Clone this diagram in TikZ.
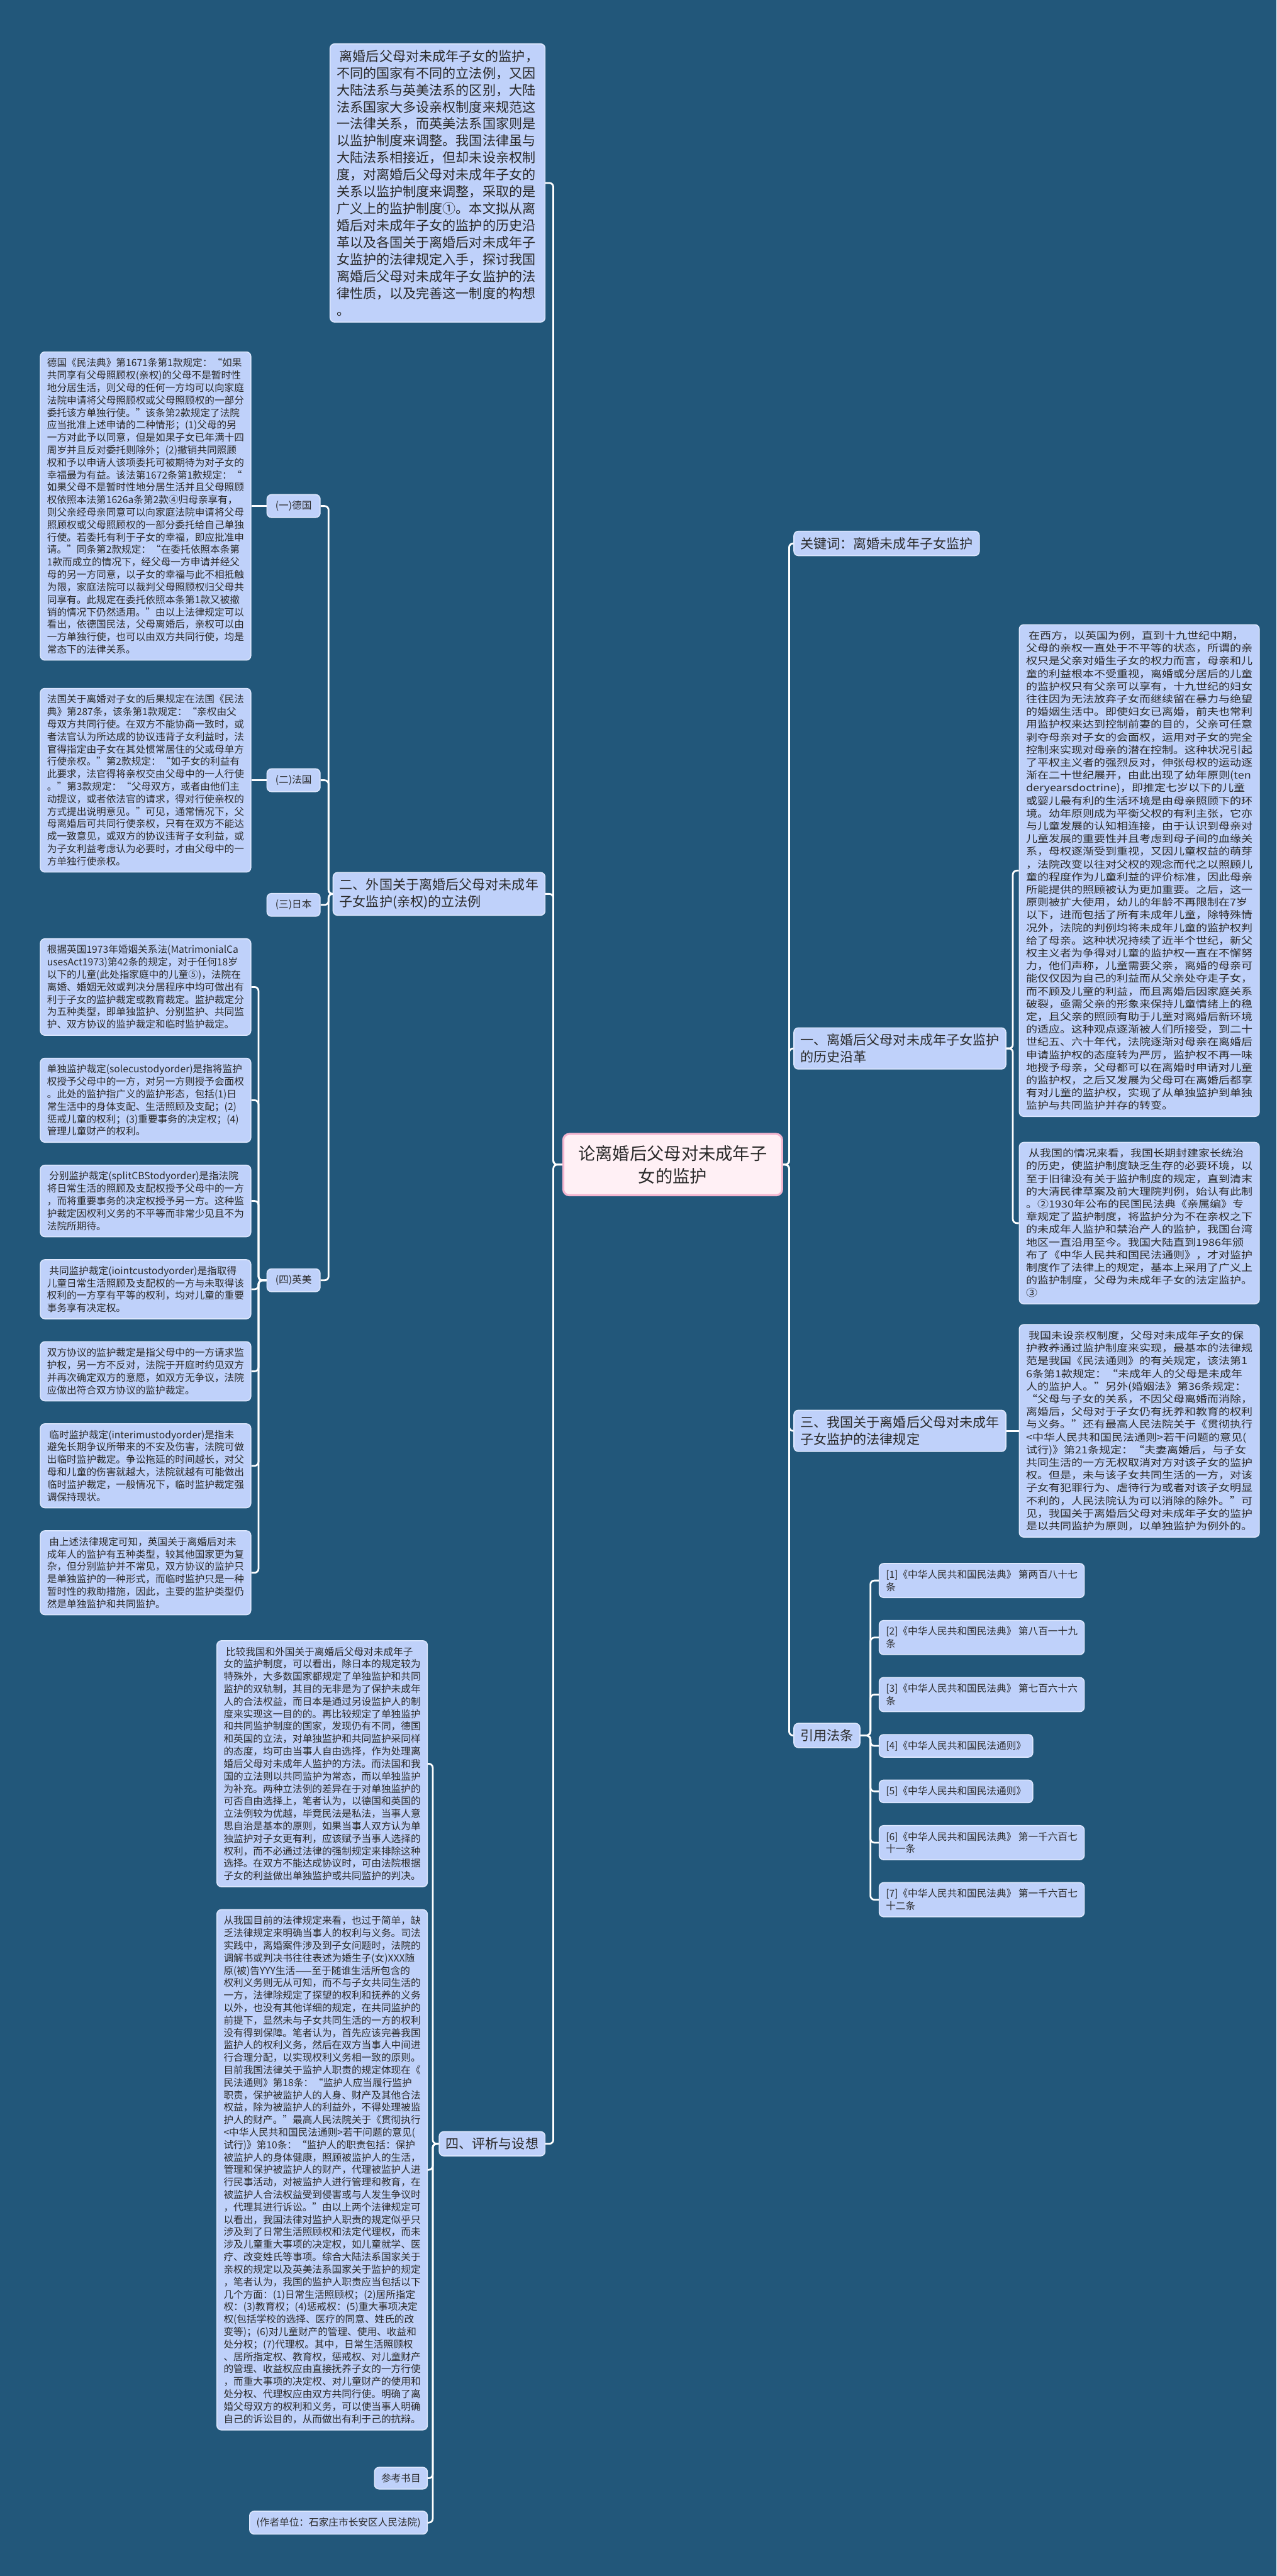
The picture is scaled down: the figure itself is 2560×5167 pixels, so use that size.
\documentclass[tikz,border=0pt]{standalone}
\usepackage{fontspec}
\newfontfamily\cjk{Noto Sans CJK SC}
\newfontfamily\cjkwide[FakeStretch=1.15]{Noto Sans CJK SC}
\usetikzlibrary{positioning,calc}
\definecolor{bgC}{HTML}{22577A}
\definecolor{bxC}{HTML}{BFD1FA}
\definecolor{txC}{HTML}{2A2A2A}
\definecolor{rtC}{HTML}{FFF0F5}
\definecolor{rtB}{HTML}{F4B6CF}

\begin{document}
\begin{tikzpicture}[x=0.1mm, y=-0.1mm, node distance=4.4mm,
  bx/.style={fill=bxC, draw=bxC!55!white, line width=.2mm, rounded corners=.9mm, text=txC,
    align=left, inner xsep=1.35mm, inner ysep=1.26mm, font=\cjk\fontsize{5.62pt}{7.11pt}\selectfont},
  wd/.style={bx, font=\cjkwide\fontsize{5.62pt}{7.25pt}\selectfont},
  lv1/.style={bx, inner xsep=1.3mm, inner ysep=1.2mm, font=\cjk\fontsize{7.57pt}{9.67pt}\selectfont},
  tag/.style={bx, inner xsep=1.7mm},
  rt/.style={fill=rtC, draw=rtB, line width=.4mm, rounded corners=1.2mm, text=txC, align=center,
    inner xsep=3mm, inner ysep=2.3mm, font=\cjk\fontsize{9.8pt}{12.8pt}\selectfont},
  ln/.style={draw=white, line width=.35mm, rounded corners=.8mm}]
\fill[bgC] (0,0) rectangle (2560,5167);
\useasboundingbox (0,0) rectangle (2560,5167);

% root
\node[rt] (root) at (1349,2336) {论离婚后父母对未成年子\\女的监护};

% right branches
\node[lv1, anchor=west] (kw) at (1591,1090) {关键词：离婚未成年子女监护};
\node[lv1, anchor=west] (hist) at (1591,2103) {一、离婚后父母对未成年子女监护\\的历史沿革};
\node[lv1, anchor=west] (law) at (1591,2870) {三、我国关于离婚后父母对未成年\\子女监护的法律规定};
\node[lv1, anchor=west] (cite) at (1591,3481) {引用法条};

% left branches
\node[lv1, anchor=east] (intro) at (1094,367) {~离婚后父母对未成年子女的监护，\\不同的国家有不同的立法例，又因\\大陆法系与英美法系的区别，大陆\\法系国家大多设亲权制度来规范这\\一法律关系，而英美法系国家则是\\以监护制度来调整。我国法律虽与\\大陆法系相接近，但却未设亲权制\\度，对离婚后父母对未成年子女的\\关系以监护制度来调整，采取的是\\广义上的监护制度①。本文拟从离\\婚后对未成年子女的监护的历史沿\\革以及各国关于离婚后对未成年子\\女监护的法律规定入手，探讨我国\\离婚后父母对未成年子女监护的法\\律性质，以及完善这一制度的构想\\。};
\node[lv1, anchor=east] (abroad) at (1094,1793) {二、外国关于离婚后父母对未成年\\子女监护(亲权)的立法例};
\node[lv1, anchor=east] (eval) at (1094,4300) {四、评析与设想};

% countries
\node[tag, anchor=east] (de) at (643,1015) {(一)德国};
\node[tag, anchor=east] (fr) at (643,1565) {(二)法国};
\node[tag, anchor=east] (jp) at (643,1815) {(三)日本};
\node[tag, anchor=east] (uk) at (643,2568) {(四)英美};

\node[bx, anchor=east] (deT) at (504,1015) {德国《民法典》第1671条第1款规定：“如果\\共同享有父母照顾权(亲权)的父母不是暂时性\\地分居生活，则父母的任何一方均可以向家庭\\法院申请将父母照顾权或父母照顾权的一部分\\委托该方单独行使。”该条第2款规定了法院\\应当批准上述申请的二种情形；(1)父母的另\\一方对此予以同意，但是如果子女已年满十四\\周岁并且反对委托则除外；(2)撤销共同照顾\\权和予以申请人该项委托可被期待为对子女的\\幸福最为有益。该法第1672条第1款规定：“\\如果父母不是暂时性地分居生活并且父母照顾\\权依照本法第1626a条第2款④归母亲享有，\\则父亲经母亲同意可以向家庭法院申请将父母\\照顾权或父母照顾权的一部分委托给自己单独\\行使。若委托有利于子女的幸福，即应批准申\\请。”同条第2款规定：“在委托依照本条第\\1款而成立的情况下，经父母一方申请并经父\\母的另一方同意，以子女的幸福与此不相抵触\\为限，家庭法院可以裁判父母照顾权归父母共\\同享有。此规定在委托依照本条第1款又被撤\\销的情况下仍然适用。”由以上法律规定可以\\看出，依德国民法，父母离婚后，亲权可以由\\一方单独行使，也可以由双方共同行使，均是\\常态下的法律关系。};
\node[bx, anchor=east] (frT) at (504,1565) {法国关于离婚对子女的后果规定在法国《民法\\典》第287条，该条第1款规定：“亲权由父\\母双方共同行使。在双方不能协商一致时，或\\者法官认为所达成的协议违背子女利益时，法\\官得指定由子女在其处惯常居住的父或母单方\\行使亲权。”第2款规定：“如子女的利益有\\此要求，法官得将亲权交由父母中的一人行使\\。”第3款规定：“父母双方，或者由他们主\\动提议，或者依法官的请求，得对行使亲权的\\方式提出说明意见。”可见，通常情况下，父\\母离婚后可共同行使亲权，只有在双方不能达\\成一致意见，或双方的协议违背子女利益，或\\为子女利益考虑认为必要时，才由父母中的一\\方单独行使亲权。};

\node[bx, anchor=north east] (uk1) at (504,1882) {根据英国1973年婚姻关系法(MatrimonialCa\\usesAct1973)第42条的规定，对于任何18岁\\以下的儿童(此处指家庭中的儿童⑤)，法院在\\离婚、婚姻无效或判决分居程序中均可做出有\\利于子女的监护裁定或教育裁定。监护裁定分\\为五种类型，即单独监护、分别监护、共同监\\护、双方协议的监护裁定和临时监护裁定。};
\node[bx, below=of uk1.south east, anchor=north east] (uk2) {单独监护裁定(solecustodyorder)是指将监护\\权授予父母中的一方，对另一方则授予会面权\\。此处的监护指广义的监护形态，包括(1)日\\常生活中的身体支配、生活照顾及支配；(2)\\惩戒儿童的权利；(3)重要事务的决定权；(4)\\管理儿童财产的权利。};
\node[bx, below=of uk2.south east, anchor=north east] (uk3) {~分别监护裁定(splitCBStodyorder)是指法院\\将日常生活的照顾及支配权授予父母中的一方\\，而将重要事务的决定权授予另一方。这种监\\护裁定因权利义务的不平等而非常少见且不为\\法院所期待。};
\node[bx, below=of uk3.south east, anchor=north east] (uk4) {~共同监护裁定(iointcustodyorder)是指取得\\儿童日常生活照顾及支配权的一方与未取得该\\权利的一方享有平等的权利，均对儿童的重要\\事务享有决定权。};
\node[bx, below=of uk4.south east, anchor=north east] (uk5) {双方协议的监护裁定是指父母中的一方请求监\\护权，另一方不反对，法院于开庭时约见双方\\并再次确定双方的意愿，如双方无争议，法院\\应做出符合双方协议的监护裁定。};
\node[bx, below=of uk5.south east, anchor=north east] (uk6) {~临时监护裁定(interimustodyorder)是指未\\避免长期争议所带来的不安及伤害，法院可做\\出临时监护裁定。争讼拖延的时间越长，对父\\母和儿童的伤害就越大，法院就越有可能做出\\临时监护裁定，一般情况下，临时监护裁定强\\调保持现状。};
\node[bx, below=of uk6.south east, anchor=north east] (uk7) {~由上述法律规定可知，英国关于离婚后对未\\成年人的监护有五种类型，较其他国家更为复\\杂，但分别监护并不常见，双方协议的监护只\\是单独监护的一种形式，而临时监护只是一种\\暂时性的救助措施，因此，主要的监护类型仍\\然是单独监护和共同监护。};

% history
\node[wd, anchor=north west] (west1) at (2043,1252) {~在西方，以英国为例，直到十九世纪中期，\\父母的亲权一直处于不平等的状态，所谓的亲\\权只是父亲对婚生子女的权力而言，母亲和儿\\童的利益根本不受重视，离婚或分居后的儿童\\的监护权只有父亲可以享有，十九世纪的妇女\\往往因为无法放弃子女而继续留在暴力与绝望\\的婚姻生活中。即使妇女已离婚，前夫也常利\\用监护权来达到控制前妻的目的，父亲可任意\\剥夺母亲对子女的会面权，运用对子女的完全\\控制来实现对母亲的潜在控制。这种状况引起\\了平权主义者的强烈反对，伸张母权的运动逐\\渐在二十世纪展开，由此出现了幼年原则(ten\\deryearsdoctrine)，即推定七岁以下的儿童\\或婴儿最有利的生活环境是由母亲照顾下的环\\境。幼年原则成为平衡父权的有利主张，它亦\\与儿童发展的认知相连接，由于认识到母亲对\\儿童发展的重要性并且考虑到母子间的血缘关\\系，母权逐渐受到重视，又因儿童权益的萌芽\\，法院改变以往对父权的观念而代之以照顾儿\\童的程度作为儿童利益的评价标准，因此母亲\\所能提供的照顾被认为更加重要。之后，这一\\原则被扩大使用，幼儿的年龄不再限制在7岁\\以下，进而包括了所有未成年儿童，除特殊情\\况外，法院的判例均将未成年儿童的监护权判\\给了母亲。这种状况持续了近半个世纪，新父\\权主义者为争得对儿童的监护权一直在不懈努\\力，他们声称，儿童需要父亲，离婚的母亲可\\能仅仅因为自己的利益而从父亲处夺走子女，\\而不顾及儿童的利益，而且离婚后因家庭关系\\破裂，亟需父亲的形象来保持儿童情绪上的稳\\定，且父亲的照顾有助于儿童对离婚后新环境\\的适应。这种观点逐渐被人们所接受，到二十\\世纪五、六十年代，法院逐渐对母亲在离婚后\\申请监护权的态度转为严厉，监护权不再一味\\地授予母亲，父母都可以在离婚时申请对儿童\\的监护权，之后又发展为父母可在离婚后都享\\有对儿童的监护权，实现了从单独监护到单独\\监护与共同监护并存的转变。};
\node[wd, below=5mm of west1.south west, anchor=north west] (west2) {~从我国的情况来看，我国长期封建家长统治\\的历史，使监护制度缺乏生存的必要环境，以\\至于旧律没有关于监护制度的规定，直到清末\\的大清民律草案及前大理院判例，始认有此制\\。②1930年公布的民国民法典《亲属编》专\\章规定了监护制度，将监护分为不在亲权之下\\的未成年人监护和禁治产人的监护，我国台湾\\地区一直沿用至今。我国大陆直到1986年颁\\布了《中华人民共和国民法通则》，才对监护\\制度作了法律上的规定，基本上采用了广义上\\的监护制度，父母为未成年子女的法定监护。\\③};
\node[wd, anchor=west] (lawT) at (2043,2870) {~我国未设亲权制度，父母对未成年子女的保\\护教养通过监护制度来实现，最基本的法律规\\范是我国《民法通则》的有关规定，该法第1\\6条第1款规定：“未成年人的父母是未成年\\人的监护人。”另外(婚姻法》第36条规定：\\“父母与子女的关系，不因父母离婚而消除，\\离婚后，父母对于子女仍有抚养和教育的权利\\与义务。”还有最高人民法院关于《贯彻执行\\<中华人民共和国民法通则>若干问题的意见(\\试行)》第21条规定：“夫妻离婚后，与子女\\共同生活的一方无权取消对方对该子女的监护\\权。但是，未与该子女共同生活的一方，对该\\子女有犯罪行为、虐待行为或者对该子女明显\\不利的，人民法院认为可以消除的除外。”可\\见，我国关于离婚后父母对未成年子女的监护\\是以共同监护为原则，以单独监护为例外的。};

% references
\node[bx, anchor=north west] (r1) at (1762,3135) {[1]《中华人民共和国民法典》 第两百八十七\\条};
\node[bx, below=of r1.south west, anchor=north west] (r2) {[2]《中华人民共和国民法典》 第八百一十九\\条};
\node[bx, below=of r2.south west, anchor=north west] (r3) {[3]《中华人民共和国民法典》 第七百六十六\\条};
\node[bx, below=of r3.south west, anchor=north west] (r4) {[4]《中华人民共和国民法通则》};
\node[bx, below=of r4.south west, anchor=north west] (r5) {[5]《中华人民共和国民法通则》};
\node[bx, below=of r5.south west, anchor=north west] (r6) {[6]《中华人民共和国民法典》 第一千六百七\\十一条};
\node[bx, below=of r6.south west, anchor=north west] (r7) {[7]《中华人民共和国民法典》 第一千六百七\\十二条};

% evaluation
\node[bx, anchor=north east] (cmp) at (858,3290) {~比较我国和外国关于离婚后父母对未成年子\\女的监护制度，可以看出，除日本的规定较为\\特殊外，大多数国家都规定了单独监护和共同\\监护的双轨制，其目的无非是为了保护未成年\\人的合法权益，而日本是通过另设监护人的制\\度来实现这一目的的。再比较规定了单独监护\\和共同监护制度的国家，发现仍有不同，德国\\和英国的立法，对单独监护和共同监护采同样\\的态度，均可由当事人自由选择，作为处理离\\婚后父母对未成年人监护的方法。而法国和我\\国的立法则以共同监护为常态，而以单独监护\\为补充。两种立法例的差异在于对单独监护的\\可否自由选择上，笔者认为，以德国和英国的\\立法例较为优越，毕竟民法是私法，当事人意\\思自治是基本的原则，如果当事人双方认为单\\独监护对子女更有利，应该赋予当事人选择的\\权利，而不必通过法律的强制规定来排除这种\\选择。在双方不能达成协议时，可由法院根据\\子女的利益做出单独监护或共同监护的判决。};
\node[bx, below=of cmp.south east, anchor=north east] (sug) {从我国目前的法律规定来看，也过于简单，缺\\乏法律规定来明确当事人的权利与义务。司法\\实践中，离婚案件涉及到子女问题时，法院的\\调解书或判决书往往表述为婚生子(女)XXX随\\原(被)告YYY生活——至于随谁生活所包含的\\权利义务则无从可知，而不与子女共同生活的\\一方，法律除规定了探望的权利和抚养的义务\\以外，也没有其他详细的规定，在共同监护的\\前提下，显然未与子女共同生活的一方的权利\\没有得到保障。笔者认为，首先应该完善我国\\监护人的权利义务，然后在双方当事人中间进\\行合理分配，以实现权利义务相一致的原则。\\目前我国法律关于监护人职责的规定体现在《\\民法通则》第18条：“监护人应当履行监护\\职责，保护被监护人的人身、财产及其他合法\\权益，除为被监护人的利益外，不得处理被监\\护人的财产。”最高人民法院关于《贯彻执行\\<中华人民共和国民法通则>若干问题的意见(\\试行)》第10条：“监护人的职责包括：保护\\被监护人的身体健康，照顾被监护人的生活，\\管理和保护被监护人的财产，代理被监护人进\\行民事活动，对被监护人进行管理和教育，在\\被监护人合法权益受到侵害或与人发生争议时\\，代理其进行诉讼。”由以上两个法律规定可\\以看出，我国法律对监护人职责的规定似乎只\\涉及到了日常生活照顾权和法定代理权，而未\\涉及儿童重大事项的决定权，如儿童就学、医\\疗、改变姓氏等事项。综合大陆法系国家关于\\亲权的规定以及英美法系国家关于监护的规定\\，笔者认为，我国的监护人职责应当包括以下\\几个方面：(1)日常生活照顾权；(2)居所指定\\权：(3)教育权；(4)惩戒权：(5)重大事项决定\\权(包括学校的选择、医疗的同意、姓氏的改\\变等)；(6)对儿童财产的管理、使用、收益和\\处分权；(7)代理权。其中，日常生活照顾权\\、居所指定权、教育权，惩戒权、对儿童财产\\的管理、收益权应由直接抚养子女的一方行使\\，而重大事项的决定权、对儿童财产的使用和\\处分权、代理权应由双方共同行使。明确了离\\婚父母双方的权利和义务，可以使当事人明确\\自己的诉讼目的，从而做出有利于己的抗辩。};
\node[bx, anchor=north east] (book) at (858,4948) {参考书目};
\node[bx, anchor=north east] (unit) at (858,5036) {(作者单位：石家庄市长安区人民法院)};

% connectors
\foreach \c in {kw,hist,law,cite} \draw[ln] (root.east) -- ++(12,0) |- (\c.west);
\foreach \c in {intro,abroad,eval} \draw[ln] (root.west) -- ++(-18,0) |- (\c.east);
\foreach \c in {de,fr,jp,uk} \draw[ln] (abroad.west) -- ++(-8,0) |- (\c.east);
\draw[ln] (de.west) -- (deT.east);
\draw[ln] (fr.west) -- (frT.east);
\foreach \i in {1,...,7} \draw[ln] (uk.west) -- ++(-16,0) |- (uk\i.east);
\foreach \c in {west1,west2} \draw[ln] (hist.east) -- ++(13,0) |- (\c.west);
\draw[ln] (law.east) -- (lawT.west);
\foreach \i in {1,...,7} \draw[ln] (cite.east) -- ++(20,0) |- (r\i.west);
\foreach \c in {cmp,sug,book,unit} \draw[ln] (eval.west) -- ++(-12,0) |- (\c.east);
\end{tikzpicture}
\end{document}
